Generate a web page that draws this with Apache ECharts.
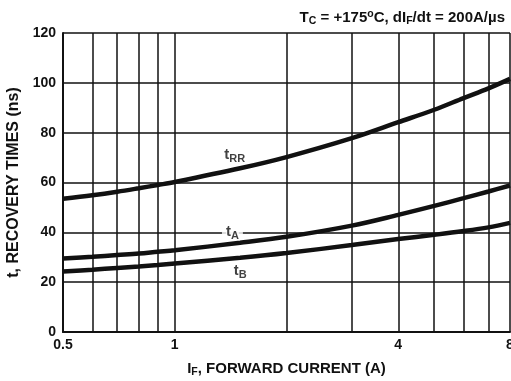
<!DOCTYPE html>
<html>
<head>
<meta charset="utf-8">
<script src="https://cdn.jsdelivr.net/npm/echarts@6/dist/echarts.min.js"></script>
<style>html,body{margin:0;padding:0;background:#fff;}#c{width:511px;height:381px;}</style>
</head>
<body>
<div id="c"></div>
<script>
// Forward current (A)
const current = [0.5, 0.6, 0.7, 0.8, 0.9, 1, 1.5, 2, 3, 4, 5, 6, 7, 8];
// Recovery times (ns)
const tRR = [53.5, 54.9, 56.3, 57.7, 59.0, 60.2, 65.7, 70.2, 77.8, 84.2, 89.2, 93.9, 97.8, 101.6];
const tA  = [29.5, 30.2, 30.9, 31.5, 32.2, 32.8, 35.8, 38.2, 42.7, 47.0, 50.6, 53.7, 56.4, 58.8];
const tB  = [24.3, 25.0, 25.7, 26.3, 26.9, 27.5, 29.8, 31.7, 34.9, 37.3, 39.0, 40.5, 42.0, 43.8];
// Axis labels / grid
const xTickLabels = [0.5, 1, 4, 8];
const xExtraGrid = [0.6, 0.7, 0.8, 0.9, 3, 5, 6, 7];
const yTicks = [0, 20, 40, 60, 80, 100, 120];
// Curve annotations: [x, y, name, subscript]
const curveLabels = [
  [1.45, 71, 't', 'RR'],
  [1.43, 40, 't', 'A'],
  [1.50, 24.5, 't', 'B']
];

const font = '"Liberation Sans", Arial, Helvetica, sans-serif';
const ink = '#111';
const pair = arr => current.map((x, i) => [x, arr[i]]);

const chart = echarts.init(document.getElementById('c'), null, {renderer: 'canvas'});
const lineSeries = (name, arr) => ({
  name, type: 'line', data: pair(arr), smooth: 0.35, showSymbol: false, symbol: 'none',
  z: 3, lineStyle: {color: ink, width: 4.5}, silent: true, animation: false
});

chart.setOption({
  animation: false,
  backgroundColor: '#fff',
  title: {
    text: 'T{s|C} = +175{sup|o}C, dI{s|F}/dt = 200A/µs',
    right: 1, top: 4,
    textStyle: {
      fontFamily: font, fontWeight: 'bold', fontSize: 15, color: ink,
      rich: {
        s: {fontFamily: font, fontWeight: 'bold', fontSize: 10.5, color: ink, padding: [7, 0, 0, 0]},
        sup: {fontFamily: font, fontWeight: 'bold', fontSize: 10.5, color: ink, padding: [0, 0, 7, 0]}
      }
    }
  },
  grid: {left: 63, right: 1, top: 33, bottom: 49, containLabel: false, outerBoundsMode: 'none'},
  xAxis: {
    type: 'log', logBase: 2, min: 0.5, max: 8,
    name: 'I{s|F}, FORWARD CURRENT (A)', nameLocation: 'middle', nameGap: 28,
    nameTextStyle: {
      fontFamily: font, fontWeight: 'bold', fontSize: 15, color: ink,
      rich: {s: {fontFamily: font, fontWeight: 'bold', fontSize: 10.5, color: ink, padding: [7, 0, 0, 0]}}
    },
    axisLine: {show: true, lineStyle: {color: ink, width: 2}},
    axisTick: {show: false},
    splitLine: {show: true, lineStyle: {color: ink, width: 1.5}},
    axisLabel: {
      fontFamily: font, fontWeight: 'bold', fontSize: 14, color: ink, margin: 6,
      formatter: v => {
        const hit = xTickLabels.find(t => Math.abs(t - v) < 1e-6);
        return hit === undefined ? '' : String(hit);
      }
    }
  },
  yAxis: {
    type: 'value', min: 0, max: 120, interval: 20,
    name: 't, RECOVERY TIMES (ns)', nameLocation: 'middle', nameGap: 41, nameRotate: 90,
    nameTextStyle: {fontFamily: font, fontWeight: 'bold', fontSize: 16, color: ink},
    axisLine: {show: true, lineStyle: {color: ink, width: 2}},
    axisTick: {show: false},
    splitLine: {show: true, lineStyle: {color: ink, width: 1.5}},
    axisLabel: {fontFamily: font, fontWeight: 'bold', fontSize: 14, color: ink, margin: 7,
      formatter: v => yTicks.includes(v) ? String(v) : ''}
  },
  series: [
    {
      name: 'grid', type: 'line', data: [], silent: true, z: 1,
      markLine: {
        silent: true, symbol: 'none', animation: false,
        label: {show: false},
        lineStyle: {color: ink, width: 1.5, type: 'solid'},
        data: xExtraGrid.map(x => ({xAxis: x}))
      }
    },
    {
      name: 'labels', type: 'scatter', z: 2, silent: true, symbolSize: 0,
      data: curveLabels.map(l => ({value: [l[0], l[1]], name: l[2]})),
      label: {
        show: true, position: 'inside',
        formatter: p => '{t|' + curveLabels[p.dataIndex][2] + '}{s|' + curveLabels[p.dataIndex][3] + '}',
        backgroundColor: '#fff', padding: [0, 4, 0, 4],
        rich: {
          t: {fontFamily: font, fontWeight: 'bold', fontSize: 15, color: ink, backgroundColor: '#fff'},
          s: {fontFamily: font, fontWeight: 'bold', fontSize: 11, color: ink, padding: [8, 0, 0, 0], backgroundColor: '#fff'}
        }
      }
    },
    lineSeries('tRR', tRR),
    lineSeries('tA', tA),
    lineSeries('tB', tB)
  ]
});
</script>
</body>
</html>
